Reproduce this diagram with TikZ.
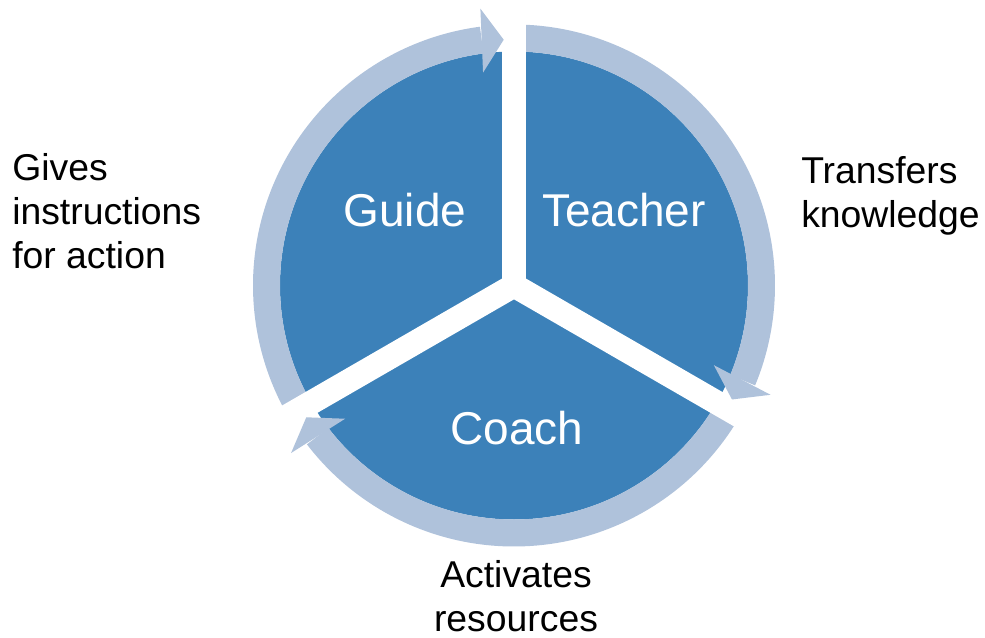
\documentclass[tikz,border=0pt]{standalone}
\usepackage{fontspec}
\setmainfont{Liberation Sans}

\begin{document}
\begin{tikzpicture}[x=0.75pt, y=0.75pt,
    rolelabel/.style={text=white, inner sep=0pt, font=\fontsize{34.5}{41}\selectfont},
    notelabel/.style={inner sep=0pt, font=\fontsize{28}{33}\selectfont}]
      \definecolor{sectorblue}{RGB}{60,129,185}
      \definecolor{ringblue}{RGB}{175,194,219}
      \useasboundingbox (-514,-352.5) rectangle (471,285.5);

      \fill[color=sectorblue] (0,0) circle (234);

      \fill[color=ringblue] (97.5:234) arc[start angle=97.5, end angle=212, radius=234]
        -- (212:261) arc[start angle=212, end angle=97.5, radius=261] -- cycle;
      \fill[color=ringblue] (-22.5:234) arc[start angle=-22.5, end angle=92, radius=234]
        -- (92:261) arc[start angle=92, end angle=-22.5, radius=261] -- cycle;
      \fill[color=ringblue] (-142.5:234) arc[start angle=-142.5, end angle=-28, radius=234]
        -- (-28:261) arc[start angle=-28, end angle=-142.5, radius=261] -- cycle;

      \fill[color=white, rotate=90]  (0,-12) rectangle (275,12);
      \fill[color=white, rotate=210] (0,-12) rectangle (275,12);
      \fill[color=white, rotate=-30] (0,-12) rectangle (275,12);

      \fill[color=ringblue, rotate=92.4]   (246,0) -- (214,22) -- (278,22) -- cycle;
      \fill[color=ringblue, rotate=-27.6]  (246,0) -- (214,22) -- (278,22) -- cycle;
      \fill[color=ringblue, rotate=-147.6] (246,0) -- (214,22) -- (278,22) -- cycle;

      \node[rolelabel] (guide)   at (-109,75.5)  {Guide};
      \node[rolelabel] (teacher) at (110,75.5)   {Teacher};
      \node[rolelabel] (coach)   at (3,-142.5)   {Coach};

      \node[notelabel, anchor=west, align=left]   (guidenote)   at (-502,74.5)  {Gives\\instructions\\for action};
      \node[notelabel, anchor=west, align=left]   (teachernote) at (287,89.5)   {Transfers\\knowledge};
      \node[notelabel, align=center]              (coachnote)   at (2,-311)     {Activates\\resources};
    \end{tikzpicture}
\end{document}
